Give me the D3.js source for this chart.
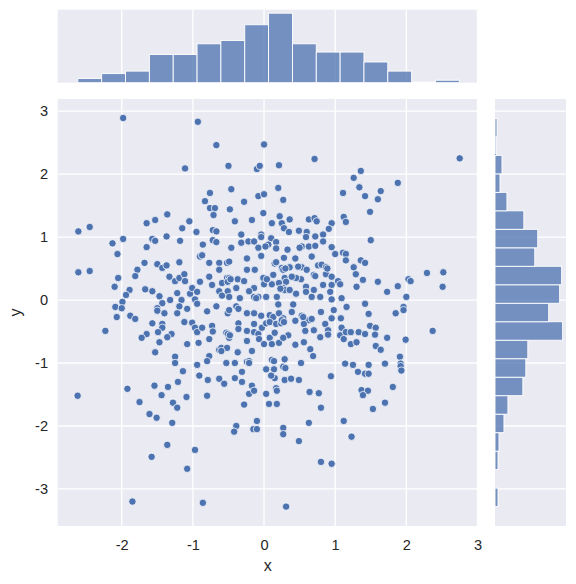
<!DOCTYPE html>
<html>
<head>
<meta charset="utf-8">
<script src="https://cdn.jsdelivr.net/npm/d3@7"></script>
<style>
    body { margin: 0; background: #fff; }
    svg text { font-family: "Liberation Sans", Arial, sans-serif; fill: #262626; }
</style>
</head>
<body>
<div id="vis"></div>
<script>
// scatter points [x, y]
var points = [
    [-1.98,2.89],[-0.93,2.83],[-1.11,2.09],[-1.36,1.36],[-1.65,1.22],[-1.53,1.27],[-2.61,1.09],[-2.45,1.16],[-1.05,1.25],[-1.15,1.14],[-0.95,1.08],
    [-0.67,2.46],[0.00,2.47],[-0.50,2.13],[-0.10,2.08],[-0.06,2.13],[0.21,2.14],[0.71,2.24],[-0.76,1.70],[-0.46,1.76],[0.20,1.78],[-0.83,1.57],[-0.76,1.46],[-0.69,1.46],[-0.71,1.35],[-0.48,1.44],[-0.28,1.56],[-0.08,1.65],[0.00,1.68],[0.27,1.59],[-0.41,1.25],[-0.17,1.27],[-0.01,1.38],[0.11,1.22],[0.22,1.33],[0.36,1.28],[0.25,1.22],[0.28,1.14],[0.63,1.28],[0.71,1.30],[0.74,1.25],[0.95,1.22],[0.91,1.13],[0.83,1.04],[0.49,1.10],[0.60,1.08],[0.35,1.08],[-0.72,1.11],[-0.67,1.09],[-0.32,1.04],[-0.04,1.04],
    [2.75,2.25],[1.36,2.05],[1.26,1.94],[1.34,1.79],[1.11,1.70],[1.42,1.65],[1.64,1.73],[1.60,1.60],[1.88,1.86],[1.49,1.40],[1.12,1.32],[1.15,1.24],
    [-2.13,0.90],[-1.98,0.97],[-1.57,0.97],[-1.53,0.94],[-1.37,1.01],[-1.18,0.94],[-1.65,0.84],[-2.06,0.73],[-2.61,0.44],[-2.45,0.46],[-1.68,0.59],[-1.78,0.48],[-1.81,0.38],[-1.50,0.57],[-1.43,0.51],[-1.37,0.55],[-1.19,0.60],[-2.05,0.35],[-1.33,0.37],[-1.25,0.30],[-1.19,0.35],[-1.12,0.41],[-1.11,0.30],[-2.10,0.21],[-1.89,0.16],[-1.94,0.08],[-1.99,-0.03],[-1.67,0.17],[-1.57,0.14],[-1.47,0.06],[-1.43,-0.05],[-1.32,0.00],[-1.22,0.11],[-1.16,0.00],[-1.04,0.10],[-1.01,0.19],[-1.19,-0.10],[-1.08,-0.14],[-1.22,-0.21],[-1.50,-0.13],[-1.50,-0.17],[-1.40,-0.21],[-2.09,-0.11],[-2.00,-0.13],[-2.07,-0.27],[-1.88,-0.25],[-1.81,-0.30],[-2.23,-0.49],[-1.57,-0.37],[-1.43,-0.38],[-1.43,-0.44],[-1.49,-0.51],[-1.65,-0.54],[-1.72,-0.60],[-1.30,-0.54],[-1.36,-0.59],[-1.12,-0.35],[-1.01,-0.36],[-1.47,-0.67],[-1.08,-0.70],[-1.53,-0.83],[-1.25,-0.90],[-1.25,-1.00],[-1.14,-1.13],
    [-0.86,0.88],[-0.72,0.95],[-0.67,0.92],[-0.46,0.83],[-0.32,0.91],[-0.22,0.93],[-0.14,0.93],[-0.04,1.00],[0.10,0.98],[0.06,0.88],[0.17,0.92],[0.17,0.82],[-0.08,0.83],[0.02,0.85],[0.59,1.00],[0.72,1.01],[0.53,0.85],[0.50,0.83],[0.63,0.85],[0.72,0.86],[0.83,0.93],[0.95,0.84],
    [-0.90,0.69],[-0.87,0.71],[-0.77,0.59],[-0.63,0.59],[-0.52,0.59],[-0.49,0.61],[-0.24,0.66],[-0.04,0.70],[0.15,0.58],[0.28,0.67],[0.44,0.66],[0.53,0.52],[0.67,0.69],[0.76,0.55],[0.81,0.56],[0.87,0.52],[1.00,0.73],[0.25,0.51],[0.36,0.52],[0.48,0.53],
    [-0.63,0.48],[-0.52,0.35],[-0.49,0.35],[-0.37,0.33],[-0.24,0.48],[-0.13,0.48],[-0.01,0.35],[0.13,0.40],[0.27,0.48],[0.29,0.35],[0.41,0.37],[0.52,0.33],[0.60,0.48],[0.70,0.40],[0.87,0.41],[0.95,0.37],[-0.77,0.37],[-0.90,0.29],[-0.73,0.24],[-0.59,0.27],[-0.51,0.29],[-0.39,0.19],[-0.28,0.30],[-0.14,0.19],[0.00,0.25],[0.11,0.25],[0.21,0.27],[0.31,0.29],[0.45,0.35],[0.59,0.21],[0.70,0.16],[0.83,0.24],[0.95,0.24],[1.04,0.30],
    [-0.94,0.13],[-0.63,0.14],[-0.59,0.07],[-0.51,0.14],[-0.49,0.05],[-0.34,0.03],[-0.14,0.05],[-0.08,0.05],[0.03,0.05],[0.18,0.05],[0.27,0.19],[0.29,0.16],[0.59,0.13],[0.67,0.05],[0.79,0.05],[0.93,0.13],[0.95,0.01],[-0.97,0.01],[-0.21,0.14],[0.45,0.10],[0.36,0.16],
    [-0.80,-0.18],[-0.67,-0.10],[-0.51,-0.21],[-0.49,-0.16],[-0.39,-0.10],[-0.36,-0.14],[-0.24,-0.21],[-0.14,-0.21],[-0.04,-0.25],[0.08,-0.24],[0.13,-0.27],[0.21,-0.21],[0.27,-0.29],[0.39,-0.19],[0.53,-0.25],[0.63,-0.32],[0.67,-0.30],[0.80,-0.19],[0.98,-0.16],[-0.94,-0.06],[0.20,-0.07],[0.41,-0.07],
    [-0.97,-0.44],[-0.94,-0.51],[-0.87,-0.44],[-0.73,-0.41],[-0.72,-0.50],[-0.53,-0.52],[-0.51,-0.54],[-0.36,-0.37],[-0.36,-0.46],[-0.24,-0.49],[-0.14,-0.38],[-0.14,-0.51],[-0.08,-0.54],[-0.03,-0.44],[0.03,-0.37],[0.08,-0.35],[0.17,-0.38],[0.24,-0.37],[0.25,-0.32],[0.34,-0.56],[0.44,-0.33],[0.56,-0.38],[0.58,-0.49],[0.70,-0.48],[0.86,-0.38],[0.90,-0.48],[0.95,-0.29],
    [-0.92,-0.68],[-0.77,-0.62],[-0.63,-0.79],[-0.60,-0.76],[-0.52,-0.76],[-0.37,-0.83],[-0.49,-0.60],[-0.24,-0.65],[-0.17,-0.81],[-0.07,-0.62],[0.08,-0.60],[0.00,-0.70],[0.11,-0.70],[0.21,-0.68],[0.27,-0.60],[0.44,-0.71],[0.56,-0.67],[0.65,-0.78],[0.79,-0.59],[0.90,-0.55],
    [-0.77,-0.89],[-0.80,-0.97],[-0.94,-1.03],[-0.53,-1.00],[-0.41,-1.00],[-0.24,-0.98],[-0.21,-0.97],[0.11,-0.95],[0.03,-1.10],[0.14,-1.10],[0.27,-1.06],[0.29,-0.94],[0.52,-1.00],[0.69,-0.89],[-0.31,-1.14],
    [0.17,0.60],[0.30,0.50],[0.39,0.37],[0.72,0.38],[0.89,0.50],[-0.47,0.33],[-0.11,0.03],[0.28,-0.35],[0.55,-0.27],[-0.48,-0.56],[-0.60,-0.81],[-0.21,-1.00],[0.30,-1.08],[0.14,-0.97],[0.04,0.33],[0.23,0.18],[0.15,-0.52],[0.33,0.80],
    [1.50,0.95],[1.11,0.75],[1.15,0.73],[1.15,0.63],[1.36,0.63],[1.42,0.59],[1.26,0.52],[1.29,0.41],[1.39,0.32],[1.30,0.21],[1.07,0.25],[1.60,0.29],[1.73,0.13],[1.88,0.22],[2.03,0.33],[2.06,0.30],[2.29,0.43],[2.52,0.44],[2.51,0.21],[2.00,0.05],[1.09,0.03],[1.16,-0.11],[1.42,-0.06],[1.47,-0.22],[1.08,-0.29],[1.85,-0.21],[1.96,-0.11],[1.96,-0.16],[2.37,-0.49],[1.09,-0.44],[1.07,-0.56],[1.12,-0.62],[1.15,-0.51],[1.22,-0.51],[1.33,-0.51],[1.42,-0.54],[1.22,-0.70],[1.30,-0.67],[1.49,-0.41],[1.57,-0.44],[1.56,-0.55],[1.73,-0.60],[1.57,-0.73],[1.64,-0.79],[1.99,-0.63],[1.91,-0.90],[1.92,-1.01],[1.92,-1.05],[1.93,-1.12],[1.14,-1.01],[1.25,-1.03],[1.47,-1.03],[1.70,-1.01],[1.32,-1.14],[1.42,-1.17],[1.47,-1.17],
    [-2.62,-1.52],[-1.92,-1.41],[-1.75,-1.62],[-1.54,-1.36],[-1.44,-1.51],[-1.35,-1.38],[-1.21,-1.30],[-1.28,-1.63],[-1.22,-1.71],[-1.09,-1.54],[-1.61,-1.81],[-1.51,-1.87],[-1.29,-1.95],[-1.36,-2.30],[-1.58,-2.49],[-0.97,-2.38],[-1.08,-2.68],[-1.85,-3.20],
    [-0.91,-1.20],[-0.79,-1.27],[-0.63,-1.25],[-0.56,-1.33],[-0.41,-1.24],[-0.31,-1.30],[-0.17,-1.36],[-0.21,-1.49],[-0.14,-1.44],[-0.80,-1.52],[-0.28,-1.66],[0.03,-1.49],[0.15,-1.24],[0.17,-1.40],[0.18,-1.44],[0.10,-1.20],[0.29,-1.27],[0.38,-1.25],[0.49,-1.27],[0.07,-1.65],[0.18,-1.65],[0.64,-1.46],[0.77,-1.48],[0.80,-1.71],[0.94,-1.21],[-0.10,-1.92],[-0.15,-2.05],[-0.10,-2.05],[-0.39,-2.00],[-0.42,-2.09],[0.27,-2.03],[0.27,-2.13],[0.49,-2.24],[0.63,-1.95],[0.80,-2.57],[0.95,-2.60],[-0.86,-3.22],[0.31,-3.28],
    [1.37,-1.43],[1.46,-1.44],[1.39,-1.51],[1.81,-1.38],[1.70,-1.63],[1.53,-1.73],[1.12,-1.92],[1.23,-2.17]
];

// marginal histograms (counts)
var xHistRange = [-2.617, 2.745];
var xHistCounts = [5, 11, 14, 34, 34, 47, 51, 70, 84, 47, 37, 37, 25, 14, 1, 3];
var yHistRange = [-3.28, 2.884];
var yHistCounts = [3, 0, 3, 4, 9, 13, 28, 31, 33, 68, 54, 65, 67, 40, 43, 29, 12, 5, 7, 1, 2]; // bottom to top

var xTicks = [-2, -1, 0, 1, 2, 3];
var yTicks = [-3, -2, -1, 0, 1, 2, 3];

var W = 576, H = 584;
var joint = {left: 57.7, right: 477.7, top: 99, bottom: 526};
var margX = {top: 9.7, bottom: 82.7};
var margY = {left: 495, right: 566};

var bg = '#eaeaf2', blue = '#4c72b0';

var svg = d3.select('#vis').append('svg')
    .attr('width', W)
    .attr('height', H);

var xScale = d3.scaleLinear().domain([-2.9, 3.003]).range([joint.left, joint.right]);
var yScale = d3.scaleLinear().domain([-3.588, 3.192]).range([joint.bottom, joint.top]);
var xCount = d3.scaleLinear().domain([0, d3.max(xHistCounts) * 1.05]).range([margX.bottom, margX.top]);
var yCount = d3.scaleLinear().domain([0, d3.max(yHistCounts) * 1.05]).range([margY.left, margY.right]);

var edges = function(range, n) {
    return d3.range(n + 1).map(function(i) { return range[0] + i * (range[1] - range[0]) / n; });
};
var xEdges = edges(xHistRange, xHistCounts.length);
var yEdges = edges(yHistRange, yHistCounts.length);

var intLabel = function(d) { return String(d); };

// backgrounds
svg.append('rect').attr('x', joint.left).attr('y', joint.top)
    .attr('width', joint.right - joint.left).attr('height', joint.bottom - joint.top).attr('fill', bg);
svg.append('rect').attr('x', joint.left).attr('y', margX.top)
    .attr('width', joint.right - joint.left).attr('height', margX.bottom - margX.top).attr('fill', bg);
svg.append('rect').attr('x', margY.left).attr('y', joint.top)
    .attr('width', margY.right - margY.left).attr('height', joint.bottom - joint.top).attr('fill', bg);

// grid lines
var grid = svg.append('g').attr('stroke', '#fff').attr('stroke-width', 1.3);
xTicks.forEach(function(t) {
    grid.append('line').attr('x1', xScale(t)).attr('x2', xScale(t)).attr('y1', joint.top).attr('y2', joint.bottom);
    grid.append('line').attr('x1', xScale(t)).attr('x2', xScale(t)).attr('y1', margX.top).attr('y2', margX.bottom);
});
yTicks.forEach(function(t) {
    grid.append('line').attr('y1', yScale(t)).attr('y2', yScale(t)).attr('x1', joint.left).attr('x2', joint.right);
    grid.append('line').attr('y1', yScale(t)).attr('y2', yScale(t)).attr('x1', margY.left).attr('x2', margY.right);
});

// marginal histograms
svg.append('g').selectAll('rect').data(xHistCounts).enter().append('rect')
    .attr('x', function(d, i) { return xScale(xEdges[i]); })
    .attr('width', function(d, i) { return xScale(xEdges[i + 1]) - xScale(xEdges[i]); })
    .attr('y', function(d) { return xCount(d); })
    .attr('height', function(d) { return xCount(0) - xCount(d); })
    .attr('fill', blue).attr('fill-opacity', 0.75)
    .attr('stroke', '#fff').attr('stroke-width', 0.9);

svg.append('g').selectAll('rect').data(yHistCounts).enter().append('rect')
    .attr('y', function(d, i) { return yScale(yEdges[i + 1]); })
    .attr('height', function(d, i) { return yScale(yEdges[i]) - yScale(yEdges[i + 1]); })
    .attr('x', yCount(0))
    .attr('width', function(d) { return yCount(d) - yCount(0); })
    .attr('fill', blue).attr('fill-opacity', 0.75)
    .attr('stroke', '#fff').attr('stroke-width', 0.9);

// scatter
svg.append('g').selectAll('circle').data(points).enter().append('circle')
    .attr('cx', function(d) { return xScale(d[0]); })
    .attr('cy', function(d) { return yScale(d[1]); })
    .attr('r', 3.7)
    .attr('fill', blue)
    .attr('stroke', '#fff')
    .attr('stroke-width', 0.75);

// axes
var xAxis = d3.axisBottom(xScale).tickValues(xTicks).tickSize(0).tickPadding(14).tickFormat(intLabel);
var yAxis = d3.axisLeft(yScale).tickValues(yTicks).tickSize(0).tickPadding(9.7).tickFormat(intLabel);

var gx = svg.append('g').attr('transform', 'translate(0,' + joint.bottom + ')').call(xAxis);
var gy = svg.append('g').attr('transform', 'translate(' + joint.left + ',0)').call(yAxis);
[gx, gy].forEach(function(g) {
    g.select('.domain').remove();
    g.selectAll('text').attr('font-size', 14.6).attr('fill', '#262626')
        .attr('font-family', '"Liberation Sans", Arial, sans-serif');
});

svg.append('text')
    .attr('x', (joint.left + joint.right) / 2)
    .attr('y', 571)
    .attr('text-anchor', 'middle')
    .attr('font-size', 16)
    .text('x');

svg.append('text')
    .attr('transform', 'translate(21,' + (joint.top + joint.bottom) / 2 + ')rotate(-90)')
    .attr('text-anchor', 'middle')
    .attr('font-size', 16)
    .text('y');
</script>
</body>
</html>
